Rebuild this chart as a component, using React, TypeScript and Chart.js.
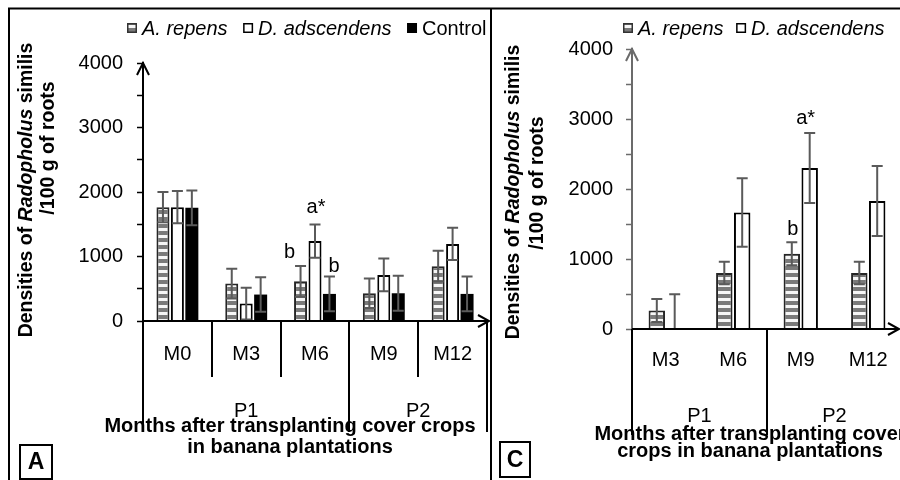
import React, { useEffect, useRef } from 'react';
import { Chart, registerables } from 'chart.js';

Chart.register(...registerables);

const FONT = '"Liberation Sans", Arial, Helvetica, sans-serif';

// ---------- shared ----------
const seriesNames = ['A. repens', 'D. adscendens', 'Control'];
const yLabelValues = [0, 1000, 2000, 3000, 4000];
const yMax = 4000;
const yMinorStep = 500;

// ---------- panel A ----------
const monthsA = ['M0', 'M3', 'M6', 'M9', 'M12'];
const periodsA = ['P1', 'P2'];
const periodSpanA = [3, 2];
const repensA = [1765, 580, 615, 430, 850];
const repensErrA = [235, 230, 238, 230, 238];
const adscA = [1765, 270, 1240, 715, 1195];
const adscErrA = [250, 245, 258, 255, 250];
const controlA = [1755, 410, 420, 430, 420];
const controlErrA = [270, 268, 270, 270, 268];
const lettersA = [
  { series: 0, index: 2, text: 'b' },
  { series: 1, index: 2, text: 'a*' },
  { series: 2, index: 2, text: 'b' },
];

// ---------- panel C ----------
const monthsC = ['M3', 'M6', 'M9', 'M12'];
const periodsC = ['P1', 'P2'];
const periodSpanC = [2, 2];
const repensC = [265, 800, 1075, 800];
const repensErrC = [165, 160, 165, 160];
const adscC = [0, 1665, 2300, 1830];
const adscErrC = [495, 490, 500, 500];
const lettersC = [
  { series: 0, index: 2, text: 'b' },
  { series: 1, index: 2, text: 'a*' },
];

const yTitle1 = [
  { text: 'Densities of ', italic: false },
  { text: 'Radopholus', italic: true },
  { text: ' similis', italic: false },
];
const yTitle2 = [{ text: '/100 g of roots', italic: false }];

const panelA = {
  months: monthsA, periods: periodsA, spans: periodSpanA,
  values: [repensA, adscA, controlA], errors: [repensErrA, adscErrA, controlErrA],
  letters: lettersA,
};
const panelC = {
  months: monthsC, periods: periodsC, spans: periodSpanC,
  values: [repensC, adscC], errors: [repensErrC, adscErrC],
  letters: lettersC,
};

// ---------- styles / layout ----------
const seriesItalic = [true, true, false];
const styleA = {
  left: 0, width: 492,
  chartLeft: 143, chartRight: 487, chartTop: 63, chartBottom: 321,
  yAxisColor: '#000000', yTickPad: 14,
  catPct: 0.63, barPct: 0.9,
  monthDiv: 56, periodDiv: 111, showMonthDiv: true,
  monthLabelY: 360, periodLabelY: 417,
  titleLines: ['Months after transplanting cover crops', 'in banana plantations'],
  titleX: 290, titleY: [431.5, 453],
  yTitleSize: 19.5, yTitleX: [27, 49], yTitleCY: [190, 148],
  legendX: 127, legendY: 28, legendGap: 15.5,
  letterOffsets: [[-11, -8], [1, -11], [4.5, -4.5]],
  label: 'A', labelBox: [20, 445, 32, 34],
  xArrowTip: 489,
  frameLines: [[8, 8.5, 492, 8.5], [9, 8, 9, 480], [491, 8, 491, 480]],
};
const styleC = {
  left: 492, width: 410,
  chartLeft: 632, chartRight: 902, chartTop: 49, chartBottom: 329,
  yAxisColor: '#6b6b6b', yTickPad: 13,
  catPct: 0.53, barPct: 0.92,
  monthDiv: 56, periodDiv: 106, showMonthDiv: false,
  monthLabelY: 366, periodLabelY: 422,
  titleLines: ['Months after transplanting cover', 'crops in banana plantations'],
  titleX: 750, titleY: [440, 457],
  yTitleSize: 19.5, yTitleX: [514, 538], yTitleCY: [192, 183],
  legendX: 623, legendY: 28, legendGap: 12.5,
  letterOffsets: [[1, -7.5], [-4, -9.3]],
  label: 'C', labelBox: [500, 442, 30, 35],
  xArrowTip: 899,
  frameLines: [[490, 8.5, 905, 8.5]],
};

function makeStripePattern(ctx: CanvasRenderingContext2D) {
  const c = document.createElement('canvas');
  c.width = 4; c.height = 7;
  const g = c.getContext('2d')!;
  g.fillStyle = '#f6f6f6'; g.fillRect(0, 0, 4, 7);
  g.fillStyle = '#7a7a7a'; g.fillRect(0, 0, 4, 4);
  return ctx.createPattern(c, 'repeat')!;
}

function decor(panel: any, st: any, stripes: CanvasPattern) {
  return {
    id: 'decor',
    afterDatasetsDraw(chart: any) {
      const ctx: CanvasRenderingContext2D = chart.ctx;
      const ys = chart.scales.y;
      ctx.save();
      ctx.strokeStyle = '#5a5a5a';
      ctx.lineWidth = 2;
      const cap = 5.5;
      panel.errors.forEach((errs: number[], di: number) => {
        const meta = chart.getDatasetMeta(di);
        const vals = panel.values[di];
        meta.data.forEach((el: any, i: number) => {
          const v = vals[i], e = errs[i];
          const x = el.x;
          const yt = ys.getPixelForValue(v + e);
          const lo = v - e;
          const yb = ys.getPixelForValue(Math.max(lo, 0));
          ctx.beginPath();
          ctx.moveTo(x, yt); ctx.lineTo(x, yb);
          ctx.moveTo(x - cap, yt); ctx.lineTo(x + cap, yt);
          if (lo > 0) { ctx.moveTo(x - cap, yb); ctx.lineTo(x + cap, yb); }
          ctx.stroke();
        });
      });
      ctx.fillStyle = '#000';
      ctx.font = `20px ${FONT}`;
      ctx.textAlign = 'center';
      ctx.textBaseline = 'alphabetic';
      panel.letters.forEach((L: any, k: number) => {
        const el = chart.getDatasetMeta(L.series).data[L.index];
        const v = panel.values[L.series][L.index] + panel.errors[L.series][L.index];
        const [dx, dy] = st.letterOffsets[k];
        ctx.fillText(L.text, el.x + dx, ys.getPixelForValue(v) + dy);
      });
      ctx.restore();
    },
    afterDraw(chart: any) {
      const ctx: CanvasRenderingContext2D = chart.ctx;
      const ca = chart.chartArea;
      const xs = chart.scales.x;
      const X = (v: number) => v - st.left;
      ctx.save();
      ctx.lineCap = 'butt';
      ctx.strokeStyle = '#000';
      ctx.lineWidth = 2;
      // frame
      st.frameLines.forEach(([x1, y1, x2, y2]: number[]) => {
        ctx.beginPath(); ctx.moveTo(X(x1), y1); ctx.lineTo(X(x2), y2); ctx.stroke();
      });
      // x axis with arrow
      const yb = ca.bottom;
      const tip = X(st.xArrowTip);
      ctx.beginPath(); ctx.moveTo(ca.left, yb); ctx.lineTo(tip, yb); ctx.stroke();
      ctx.beginPath(); ctx.moveTo(tip - 11, yb - 6); ctx.lineTo(tip, yb); ctx.lineTo(tip - 11, yb + 6); ctx.stroke();
      // y arrow
      ctx.strokeStyle = st.yAxisColor;
      ctx.beginPath(); ctx.moveTo(ca.left - 6, ca.top + 12); ctx.lineTo(ca.left, ca.top); ctx.lineTo(ca.left + 6, ca.top + 12); ctx.stroke();
      // hierarchical category axis
      ctx.strokeStyle = '#000';
      const n = panel.months.length;
      const p0 = xs.getPixelForValue(0);
      const step = n > 1 ? xs.getPixelForValue(1) - p0 : ca.width;
      const edge = (i: number) => p0 + (i - 0.5) * step;
      const bounds = [0];
      panel.spans.reduce((acc: number, s: number) => { bounds.push(acc + s); return acc + s; }, 0);
      for (let i = 0; i <= n; i++) {
        const isP = bounds.includes(i);
        if (!isP && !st.showMonthDiv) continue;
        const len = isP ? st.periodDiv : st.monthDiv;
        const x = Math.round(edge(i));
        ctx.beginPath(); ctx.moveTo(x, yb); ctx.lineTo(x, yb + len); ctx.stroke();
      }
      ctx.fillStyle = '#000';
      ctx.font = `20px ${FONT}`;
      ctx.textAlign = 'center';
      ctx.textBaseline = 'alphabetic';
      panel.months.forEach((m: string, i: number) => ctx.fillText(m, xs.getPixelForValue(i), st.monthLabelY));
      panel.periods.forEach((p: string, k: number) =>
        ctx.fillText(p, (edge(bounds[k]) + edge(bounds[k + 1])) / 2, st.periodLabelY));
      // x title
      ctx.font = `bold 20px ${FONT}`;
      st.titleLines.forEach((t: string, k: number) => ctx.fillText(t, X(st.titleX), st.titleY[k]));
      // y title
      const drawSegs = (segs: any[], cx: number, cy: number) => {
        ctx.save();
        ctx.translate(cx, cy);
        ctx.rotate(-Math.PI / 2);
        ctx.textAlign = 'left';
        ctx.textBaseline = 'middle';
        const fonts = segs.map((s) => `${s.italic ? 'italic ' : ''}bold ${st.yTitleSize}px ${FONT}`);
        const widths = segs.map((s, i) => { ctx.font = fonts[i]; return ctx.measureText(s.text).width; });
        let x = -widths.reduce((a, b) => a + b, 0) / 2;
        segs.forEach((s, i) => { ctx.font = fonts[i]; ctx.fillText(s.text, x, 0); x += widths[i]; });
        ctx.restore();
      };
      drawSegs(yTitle1, X(st.yTitleX[0]), st.yTitleCY[0]);
      drawSegs(yTitle2, X(st.yTitleX[1]), st.yTitleCY[1]);
      // legend
      let lx = X(st.legendX);
      const sy = st.legendY - 5;
      panel.values.forEach((_: any, k: number) => {
        if (k === 0) {
          ctx.fillStyle = stripes; ctx.fillRect(lx, sy, 10, 10);
          ctx.strokeStyle = '#333'; ctx.lineWidth = 1.5; ctx.strokeRect(lx + 0.75, sy + 0.75, 8.5, 8.5);
        } else if (k === 1) {
          ctx.fillStyle = '#fff'; ctx.fillRect(lx, sy, 10, 10);
          ctx.strokeStyle = '#000'; ctx.lineWidth = 1.5; ctx.strokeRect(lx + 0.75, sy + 0.75, 8.5, 8.5);
        } else {
          ctx.fillStyle = '#000'; ctx.fillRect(lx, sy, 10, 10);
        }
        ctx.fillStyle = '#000';
        ctx.font = `${seriesItalic[k] ? 'italic ' : ''}20px ${FONT}`;
        ctx.textAlign = 'left';
        ctx.textBaseline = 'alphabetic';
        ctx.fillText(seriesNames[k], lx + 15, st.legendY + 7);
        lx += 15 + ctx.measureText(seriesNames[k]).width + st.legendGap;
      });
      // panel label box
      const [bx, by, bw, bh] = st.labelBox;
      ctx.strokeStyle = '#000'; ctx.lineWidth = 2;
      ctx.strokeRect(X(bx), by, bw, bh);
      ctx.font = `bold 23px ${FONT}`;
      ctx.textAlign = 'center';
      ctx.textBaseline = 'middle';
      ctx.fillText(st.label, X(bx + bw / 2), by + bh / 2 + 1);
      ctx.restore();
    },
  };
}

function buildChart(canvas: HTMLCanvasElement, panel: any, st: any) {
  const ctx = canvas.getContext('2d')!;
  const stripes = makeStripePattern(ctx);
  const fills: any[] = [stripes, '#ffffff', '#000000'];
  const borders = ['#262626', '#000000', '#000000'];
  const bws = [2, 2, 0];
  const datasets = panel.values.map((vals: number[], i: number) => ({
    label: seriesNames[i],
    data: vals,
    backgroundColor: fills[i],
    borderColor: borders[i],
    borderWidth: bws[i],
    categoryPercentage: st.catPct,
    barPercentage: st.barPct,
  }));
  return new Chart(canvas, {
    type: 'bar',
    data: { labels: panel.months, datasets },
    options: {
      animation: false,
      responsive: false,
      maintainAspectRatio: false,
      events: [],
      layout: {
        padding: {
          left: 0,
          top: st.chartTop,
          right: st.left + st.width - st.chartRight,
          bottom: 480 - st.chartBottom,
        },
      },
      plugins: { legend: { display: false }, tooltip: { enabled: false }, title: { display: false } },
      scales: {
        x: { type: 'category', display: false, offset: true, grid: { display: false } },
        y: {
          min: 0,
          max: yMax,
          afterFit: (s: any) => { s.width = st.chartLeft - st.left; },
          ticks: {
            stepSize: yMinorStep,
            autoSkip: false,
            padding: st.yTickPad,
            color: '#000',
            font: { family: FONT, size: 20 },
            callback: (v: any) => (yLabelValues.includes(Number(v)) ? String(v) : ''),
          },
          grid: {
            display: true, drawOnChartArea: false, drawTicks: true,
            tickLength: 6, tickColor: st.yAxisColor, tickWidth: 1.5,
          },
          border: { display: true, color: st.yAxisColor, width: 2 },
        },
      },
    } as any,
    plugins: [decor(panel, st, stripes)],
  });
}

export default function App() {
  const refA = useRef<HTMLCanvasElement>(null);
  const refC = useRef<HTMLCanvasElement>(null);
  useEffect(() => {
    const a = buildChart(refA.current!, panelA, styleA);
    const c = buildChart(refC.current!, panelC, styleC);
    return () => { a.destroy(); c.destroy(); };
  }, []);
  return (
    <div style={{ position: 'fixed', left: 0, top: 0, width: 900, height: 480, overflow: 'hidden', background: '#fff' }}>
      <canvas ref={refA} width={styleA.width} height={480} style={{ position: 'absolute', left: styleA.left, top: 0 }} />
      <canvas ref={refC} width={styleC.width} height={480} style={{ position: 'absolute', left: styleC.left, top: 0 }} />
    </div>
  );
}
